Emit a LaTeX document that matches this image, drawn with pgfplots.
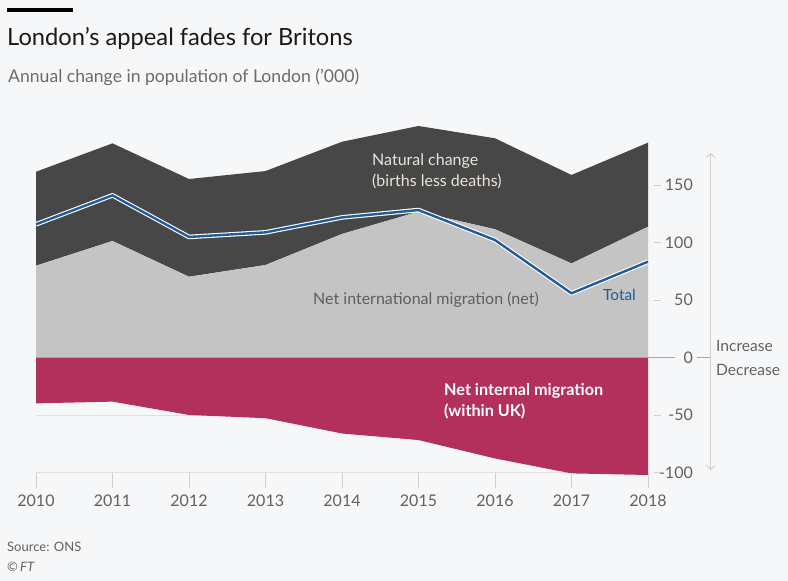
\documentclass[border=0pt]{standalone}
\usepackage{pgfplots}
\pgfplotsset{compat=1.18}
\usepackage{pgfplotstable}
\usepgfplotslibrary{fillbetween}
\usetikzlibrary{arrows.meta}
\usepackage{fontspec}
\setmainfont{Lato}
\definecolor{bg}{HTML}{F6F7F9}
\definecolor{darkfill}{HTML}{474747}
\definecolor{lightfill}{HTML}{C4C4C4}
\definecolor{claret}{HTML}{B2305B}
\definecolor{bluel}{HTML}{1E5C9B}
\definecolor{titlec}{HTML}{1A1A1A}
\definecolor{subc}{HTML}{6B6B6B}
\definecolor{tickc}{HTML}{66605C}
\definecolor{gridc}{HTML}{E6DEDA}
\definecolor{arrowc}{HTML}{D0D0D0}
\definecolor{natc}{HTML}{EDE3D9}
\definecolor{intc}{HTML}{5E5E5E}
\pagecolor{bg}

% idx: 0 = 2010 ... 8 = 2018
\pgfplotstableread{
idx year intl natural internal total
0 2010 80.0 81.7 -39.7 116.0
1 2011 101.5 84.9 -38.2 141.2
2 2012 70.4 85.0 -49.8 105.0
3 2013 80.6 81.7 -52.6 109.0
4 2014 107.6 80.2 -65.9 122.0
5 2015 127.0 74.5 -71.6 128.4
6 2016 111.7 79.1 -87.6 102.3
7 2017 82.0 76.9 -100.6 56.0
8 2018 113.9 73.1 -102.0 83.5
}\popdata

\begin{document}
\begin{tikzpicture}
\begin{scope}[x=1pt,y=1pt]
\path (0,0) rectangle (788,-581);
\fill[black] (7,-8) rectangle (73,-12);
\node[anchor=base west, inner sep=0, font=\fontsize{23.7}{26}\selectfont, text=titlec] at (7,-45.7) {London’s appeal fades for Britons};
\node[anchor=base west, inner sep=0, font=\fontsize{17.6}{19}\selectfont, text=subc] at (8,-82.3) {Annual change in population of London (’000)};
\end{scope}

\begin{axis}[at={(36pt,-472.7pt)}, anchor=south west, scale only axis,
  width=612pt, height=350.75pt,
  xmin=0, xmax=8, ymin=-100, ymax=205, clip=false,
  axis line style={draw=none}, major tick length=0pt,
  xtick={0,...,8}, xticklabels={2010,2011,2012,2013,2014,2015,2016,2017,2018},
  ytick={-100,-50,0,50,100,150},
  yticklabel pos=right,
  ymajorgrids, grid style={gridc, line width=0.8pt},
  /pgf/number format/assume math mode=true,
  x tick label style={anchor=north, inner sep=0pt, yshift=-22pt, font=\fontsize{16}{18}\selectfont, text=tickc},
  y tick label style={anchor=east, inner sep=0pt, xshift=45pt, font=\fontsize{16}{18}\selectfont, text=tickc},
]
\addplot[draw=none, name path=top] table[x=idx, y expr=\thisrow{intl}+\thisrow{natural}] {\popdata};
\addplot[draw=none, name path=intl] table[x=idx, y=intl] {\popdata};
\addplot[draw=none, name path=zero] coordinates {(0,0) (8,0)};
\addplot[draw=none, name path=internal] table[x=idx, y=internal] {\popdata};
\addplot[fill=darkfill, draw=none] fill between[of=top and intl];
\addplot[fill=lightfill, draw=none] fill between[of=intl and zero];
\addplot[fill=claret, draw=none] fill between[of=zero and internal];
\addplot[white, line width=4.6pt, line join=round] table[x=idx, y=total] {\popdata};
\addplot[bluel, line width=2.4pt, line join=round] table[x=idx, y=total] {\popdata};
\draw[gray!70, line width=0.7pt] (axis cs:0,0) -- (axis cs:8,0) -- ++(27pt,0pt);
\pgfplotsinvokeforeach{-100,-50,50,100,150}{
  \draw[arrowc, line width=0.8pt] (axis cs:8,#1) ++(6pt,0pt) -- ++(7pt,0pt);
}
\pgfplotsinvokeforeach{0,...,8}{
  \draw[arrowc, line width=0.8pt] (axis cs:#1,-100) -- ++(0pt,-15pt);
}
\end{axis}

\begin{scope}[x=1pt,y=1pt]
\draw[gray!70, line width=0.7pt] (697,-357.7) -- (710,-357.7);
\draw[arrowc, line width=1pt, {Straight Barb[length=4pt,width=9pt]}-{Straight Barb[length=4pt,width=9pt]}] (710.7,-153) -- (710.7,-470);
\node[anchor=base west, inner sep=0, font=\fontsize{15.6}{17}\selectfont, text=tickc] at (716,-351.5) {Increase};
\node[anchor=base west, inner sep=0, font=\fontsize{15.6}{17}\selectfont, text=tickc] at (716,-375) {Decrease};

\node[anchor=base west, inner sep=0, font=\fontsize{16}{18}\selectfont, text=natc] at (372,-165) {Natural change};
\node[anchor=base west, inner sep=0, font=\fontsize{16}{18}\selectfont, text=natc] at (372,-186) {(births less deaths)};
\node[anchor=base west, inner sep=0, font=\fontsize{16}{18}\selectfont, text=intc] at (313,-304) {Net international migration (net)};
\node[anchor=base west, inner sep=0, font=\fontsize{15.4}{17}\selectfont, text=bluel] at (603,-300) {Total};
\node[anchor=base west, inner sep=0, font=\bfseries\fontsize{16.2}{18}\selectfont, text=white] at (444,-395.5) {Net internal migration};
\node[anchor=base west, inner sep=0, font=\bfseries\fontsize{16.2}{18}\selectfont, text=white] at (444,-416) {(within UK)};

\node[anchor=base west, inner sep=0, font=\fontsize{13}{15}\selectfont, text=tickc] at (7,-551.5) {Source: ONS};
\node[anchor=base west, inner sep=0, font=\fontsize{13}{15}\selectfont, text=tickc] at (7,-571) {©\,\textit{FT}};
\end{scope}

\pgfresetboundingbox
\path[use as bounding box] (0,0) rectangle (788pt,-581pt);
\end{tikzpicture}
\end{document}
